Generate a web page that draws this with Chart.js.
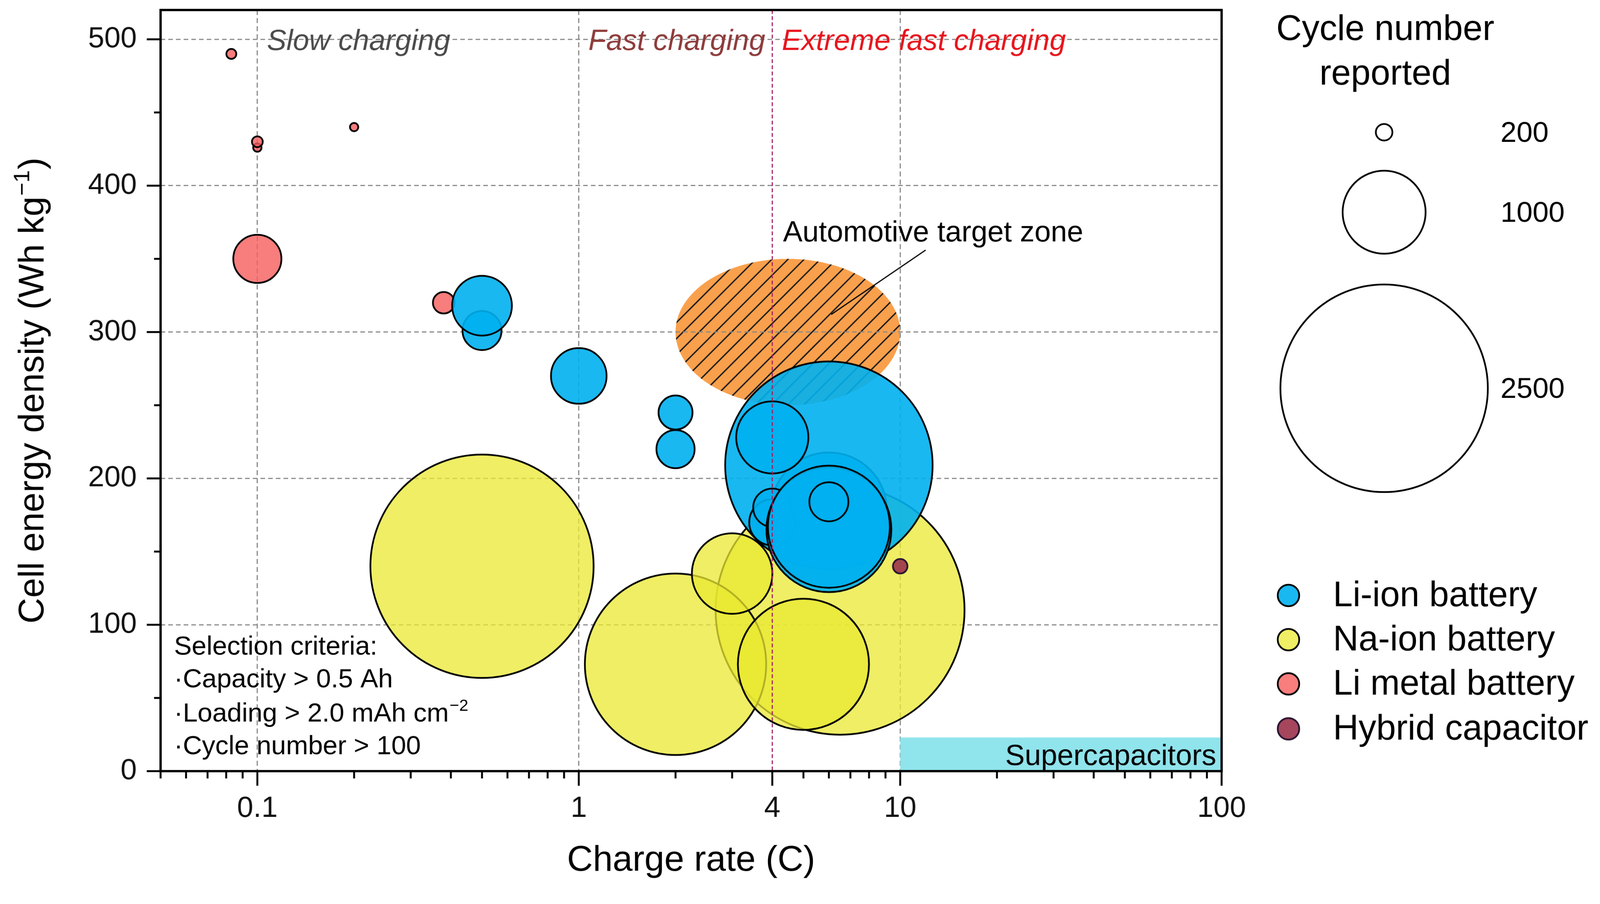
<!DOCTYPE html>
<html>
<head>
<meta charset="utf-8">
<title>Charge rate vs cell energy density</title>
<script src="https://cdn.jsdelivr.net/npm/chart.js@4.4.1/dist/chart.umd.min.js"></script>
<style>
  html, body { margin: 0; padding: 0; background: #fff; overflow: hidden; }
  canvas { display: block; }
</style>
</head>
<body>
<canvas id="bubbleChart" width="4165" height="2313"></canvas>
<script>
// ---- data ----
const seriesNames = ['Li-ion battery', 'Na-ion battery', 'Li metal battery', 'Hybrid capacitor'];

// Li-ion (drawing order: later points sit on top)
const liIonRate   = [0.5, 0.5, 1, 2, 2, 4, 6, 6, 6, 6, 4, 4, 4, 6, 6, 6];
const liIonEnergy = [301, 318, 270, 245, 220, 172, 180, 170, 178, 209, 228, 170, 180, 165, 167, 184];
const liIonCycles = [470, 720, 670, 410, 460, 390, 460, 575, 1400, 2500, 870, 555, 460, 1505, 1470, 470];

// Na-ion
const naIonRate   = [0.5, 6.5, 2, 3, 5];
const naIonEnergy = [140, 110, 73, 135, 73];
const naIonCycles = [2690, 3000, 2185, 970, 1580];

// Li metal
const liMetalRate   = [0.083, 0.1, 0.1, 0.2, 0.1, 0.38];
const liMetalEnergy = [490, 426, 430, 440, 350, 320];
const liMetalCycles = [120, 100, 130, 100, 580, 260];

// Hybrid capacitor
const hybridRate   = [10];
const hybridEnergy = [140];
const hybridCycles = [175];

// size legend
const sizeLegendCycles = [200, 1000, 2500];

// zones
const zoneRate   = [2, 10];      // automotive target zone
const zoneEnergy = [250, 350];
const superCapRate   = [10, 100];
const superCapEnergy = [0, 23];
const regionLabels = ['Slow charging', 'Fast charging', 'Extreme fast charging'];
const regionStart  = [0.1, 1, 4];
const extremeLine  = 4;

const criteriaLines = ['Selection criteria:', '\u00b7Capacity > 0.5 Ah', '\u00b7Loading > 2.0 mAh cm', '\u00b7Cycle number > 100'];
const criteriaSup   = ['', '', '\u22122', ''];

// axes
const xTickValues = [0.05, 0.06, 0.07, 0.08, 0.09, 0.1, 0.2, 0.3, 0.4, 0.5, 0.6, 0.7, 0.8, 0.9,
                     1, 2, 3, 4, 5, 6, 7, 8, 9, 10, 20, 30, 40, 50, 60, 70, 80, 90, 100];
const xMajorValues = [0.1, 1, 4, 10, 100];
const xMajorLabels = ['0.1', '1', '4', '10', '100'];
const xGridValues  = [0.1, 1, 10];
const yTickValues  = [0, 50, 100, 150, 200, 250, 300, 350, 400, 450, 500];
const yMajorValues = [0, 100, 200, 300, 400, 500];
const yMajorLabels = ['0', '100', '200', '300', '400', '500'];
const yGridValues  = [100, 200, 300, 400, 500];

// ---- styling ----
const FONT = '"Liberation Sans", Arial, Helvetica, sans-serif';
const PX_PER_CYCLE = 0.108;   // bubble radius grows linearly with cycle number
const colors = {
  liIon:   'rgba(0, 176, 240, 0.9)',
  naIon:   'rgba(234, 232, 50, 0.75)',
  liMetal: 'rgba(246, 92, 92, 0.8)',
  hybrid:  'rgba(155, 50, 75, 0.9)'
};

function bubbles(rates, energies, cycles) {
  return rates.map((r, i) => ({ x: r, y: energies[i], r: cycles[i] * PX_PER_CYCLE }));
}

function drawText(ctx, str, x, y, size, opt = {}) {
  ctx.font = `${opt.style || ''} ${size}px ${FONT}`;
  ctx.fillStyle = opt.color || '#000';
  ctx.textAlign = opt.align || 'left';
  ctx.textBaseline = opt.baseline || 'alphabetic';
  ctx.fillText(str, x, y);
}

// text with a superscript tail, left aligned at x
function drawSupText(ctx, main, sup, x, y, size) {
  drawText(ctx, main, x, y, size);
  if (!sup) return;
  ctx.font = `${size}px ${FONT}`;
  const w = ctx.measureText(main).width;
  drawText(ctx, sup, x + w + 2, y - size * 0.4, size * 0.62);
}

const decor = {
  id: 'decor',
  beforeDraw(chart) {
    const { ctx } = chart;
    const xs = chart.scales.x, ys = chart.scales.y;
    ctx.save();
    ctx.fillStyle = '#fff';
    ctx.fillRect(0, 0, chart.width, chart.height);

    // automotive target zone: orange ellipse with hatching
    const x0 = xs.getPixelForValue(zoneRate[0]), x1 = xs.getPixelForValue(zoneRate[1]);
    const y0 = ys.getPixelForValue(zoneEnergy[1]), y1 = ys.getPixelForValue(zoneEnergy[0]);
    ctx.beginPath();
    ctx.ellipse((x0 + x1) / 2, (y0 + y1) / 2, (x1 - x0) / 2, (y1 - y0) / 2, 0, 0, Math.PI * 2);
    ctx.fillStyle = '#F9A04C';
    ctx.fill();
    ctx.clip();
    ctx.strokeStyle = '#1b1b1b';
    ctx.lineWidth = 3.5;
    const h = y1 - y0;
    for (let x = x0 - h; x < x1 + 40; x += 42) {
      ctx.beginPath();
      ctx.moveTo(x, y1);
      ctx.lineTo(x + h, y0);
      ctx.stroke();
    }
    ctx.restore();
  },
  beforeDatasetsDraw(chart) {
    const { ctx } = chart;
    const xs = chart.scales.x, ys = chart.scales.y;
    // supercapacitor band
    const sx0 = xs.getPixelForValue(superCapRate[0]), sx1 = xs.getPixelForValue(superCapRate[1]);
    const sy0 = ys.getPixelForValue(superCapEnergy[1]), sy1 = ys.getPixelForValue(superCapEnergy[0]);
    ctx.save();
    ctx.fillStyle = '#90E4EC';
    ctx.fillRect(sx0, sy0, sx1 - sx0, sy1 - sy0);
    ctx.restore();
  },
  afterDatasetsDraw(chart) {
    const { ctx, chartArea: a } = chart;
    const xs = chart.scales.x, ys = chart.scales.y;
    ctx.save();

    // 4C boundary line
    const x4 = xs.getPixelForValue(extremeLine);
    ctx.strokeStyle = '#A3205F';
    ctx.lineWidth = 3;
    ctx.setLineDash([10, 6]);
    ctx.beginPath();
    ctx.moveTo(x4, a.top);
    ctx.lineTo(x4, a.bottom);
    ctx.stroke();
    ctx.setLineDash([]);

    // frame
    ctx.strokeStyle = '#000';
    ctx.lineWidth = 6;
    ctx.strokeRect(a.left, a.top, a.right - a.left, a.bottom - a.top);

    // ticks
    ctx.lineWidth = 5;
    xTickValues.forEach(v => {
      const px = xs.getPixelForValue(v);
      const len = xMajorValues.includes(v) ? 38 : 19;
      ctx.beginPath();
      ctx.moveTo(px, a.bottom);
      ctx.lineTo(px, a.bottom + len);
      ctx.stroke();
    });
    yTickValues.forEach(v => {
      const py = ys.getPixelForValue(v);
      const len = yMajorValues.includes(v) ? 36 : 17;
      ctx.beginPath();
      ctx.moveTo(a.left, py);
      ctx.lineTo(a.left - len, py);
      ctx.stroke();
    });

    // region labels along the top
    const yTop = ys.getPixelForValue(500) + 28;
    const regionColors = ['#4a4a4a', '#8E3B3B', '#E8141C'];
    regionLabels.forEach((t, i) => {
      drawText(ctx, t, xs.getPixelForValue(regionStart[i]) + 25, yTop, 76, { style: 'italic', color: regionColors[i] });
    });

    // automotive target zone label + pointer
    drawText(ctx, 'Automotive target zone', x4 + 28, ys.getPixelForValue(362), 76);
    ctx.strokeStyle = '#000';
    ctx.lineWidth = 3;
    ctx.beginPath();
    ctx.moveTo(xs.getPixelForValue(12), ys.getPixelForValue(356));
    ctx.lineTo(xs.getPixelForValue(6.1), ys.getPixelForValue(312));
    ctx.stroke();

    // supercapacitors label
    drawText(ctx, 'Supercapacitors', a.right - 14, a.bottom - 16, 76, { align: 'right' });

    // selection criteria
    const critBase = [a.bottom - 303, a.bottom - 218, a.bottom - 129, a.bottom - 44];
    criteriaLines.forEach((t, i) => drawSupText(ctx, t, criteriaSup[i], a.left + 35, critBase[i], 69));

    // axis titles
    drawText(ctx, 'Charge rate (C)', (a.left + a.right) / 2, 2239, 93, { align: 'center', baseline: 'middle' });

    ctx.translate(80, (a.top + a.bottom) / 2);
    ctx.rotate(-Math.PI / 2);
    const tMain = 'Cell energy density (Wh kg', tSup = '\u22121', tEnd = ')';
    ctx.font = `93px ${FONT}`;
    const wMain = ctx.measureText(tMain).width, wEnd = ctx.measureText(tEnd).width;
    ctx.font = `58px ${FONT}`;
    const wSup = ctx.measureText(tSup).width;
    let sx = -(wMain + wSup + wEnd + 4) / 2;
    drawText(ctx, tMain, sx, 33, 93);
    drawText(ctx, tSup, sx + wMain + 2, -4, 58);
    drawText(ctx, tEnd, sx + wMain + wSup + 4, 33, 93);
    ctx.setTransform(1, 0, 0, 1, 0, 0);

    // size legend
    drawText(ctx, 'Cycle number', 3606, 104, 92, { align: 'center' });
    drawText(ctx, 'reported', 3606, 220, 92, { align: 'center' });
    const sizeY = [344, 552, 1010];
    ctx.lineWidth = 4.5;
    ctx.strokeStyle = '#000';
    sizeLegendCycles.forEach((c, i) => {
      ctx.beginPath();
      ctx.arc(3603, sizeY[i], c * PX_PER_CYCLE, 0, Math.PI * 2);
      ctx.stroke();
      drawText(ctx, String(c), 3906, sizeY[i] + 4, 75, { baseline: 'middle' });
    });

    // category legend
    const legY = [1549, 1664, 1779, 1896];
    chart.data.datasets.forEach((ds, i) => {
      ctx.beginPath();
      ctx.arc(3354, legY[i], 28, 0, Math.PI * 2);
      ctx.fillStyle = ds.backgroundColor;
      ctx.fill();
      ctx.lineWidth = 4.5;
      ctx.strokeStyle = ds.borderColor;
      ctx.stroke();
      drawText(ctx, ds.label, 3470, legY[i] + 3, 92, { baseline: 'middle' });
    });
    ctx.restore();
  }
};

// keep the plot box where the figure has it: no label overhang padding
function pinScale(s, size) {
  if (s.isHorizontal()) s.height = size; else s.width = size;
  s.paddingTop = 0; s.paddingBottom = 0; s.paddingLeft = 0; s.paddingRight = 0;
}

const canvas = document.getElementById('bubbleChart');
const chart = new Chart(canvas.getContext('2d'), {
  type: 'bubble',
  data: {
    datasets: [
      { label: seriesNames[0], data: bubbles(liIonRate, liIonEnergy, liIonCycles), order: 1,
        backgroundColor: colors.liIon, borderColor: '#000', borderWidth: 4.5 },
      { label: seriesNames[1], data: bubbles(naIonRate, naIonEnergy, naIonCycles), order: 3,
        backgroundColor: colors.naIon, borderColor: '#000', borderWidth: 4.5 },
      { label: seriesNames[2], data: bubbles(liMetalRate, liMetalEnergy, liMetalCycles), order: 2,
        backgroundColor: colors.liMetal, borderColor: '#000', borderWidth: 4.5 },
      { label: seriesNames[3], data: bubbles(hybridRate, hybridEnergy, hybridCycles), order: 0,
        backgroundColor: colors.hybrid, borderColor: '#2a1430', borderWidth: 4.5 }
    ]
  },
  options: {
    responsive: false,
    devicePixelRatio: 1,
    animation: false,
    events: [],
    layout: { autoPadding: false, padding: { left: 0, top: 26, right: 985, bottom: 0 } },
    plugins: { legend: { display: false }, tooltip: { enabled: false } },
    scales: {
      x: {
        type: 'logarithmic',
        min: 0.05,
        max: 100,
        afterBuildTicks: s => { s.ticks = xTickValues.map(v => ({ value: v })); },
        afterFit: s => pinScale(s, 307),
        ticks: {
          autoSkip: false, maxRotation: 0, padding: 52, color: '#111',
          font: { family: FONT, size: 76 },
          callback: v => { const i = xMajorValues.indexOf(v); return i >= 0 ? xMajorLabels[i] : ''; }
        },
        grid: {
          drawTicks: false,
          lineWidth: 3,
          color: c => (c.tick && xGridValues.includes(c.tick.value)) ? '#8a8a8a' : 'rgba(0,0,0,0)'
        },
        border: { display: false, dash: [13, 8] }
      },
      y: {
        min: 0,
        max: 520,
        afterBuildTicks: s => { s.ticks = yTickValues.map(v => ({ value: v })); },
        afterFit: s => pinScale(s, 418),
        ticks: {
          autoSkip: false, padding: 62, color: '#111',
          font: { family: FONT, size: 76 },
          callback: v => { const i = yMajorValues.indexOf(v); return i >= 0 ? yMajorLabels[i] : ''; }
        },
        grid: {
          drawTicks: false,
          lineWidth: 3,
          color: c => (c.tick && yGridValues.includes(c.tick.value)) ? '#8a8a8a' : 'rgba(0,0,0,0)'
        },
        border: { display: false, dash: [12, 8] }
      }
    }
  },
  plugins: [decor]
});

// fit the drawing to the viewport width, keeping the figure's aspect ratio
canvas.style.width = '100vw';
canvas.style.height = 'calc(100vw * 2313 / 4165)';
</script>
</body>
</html>
